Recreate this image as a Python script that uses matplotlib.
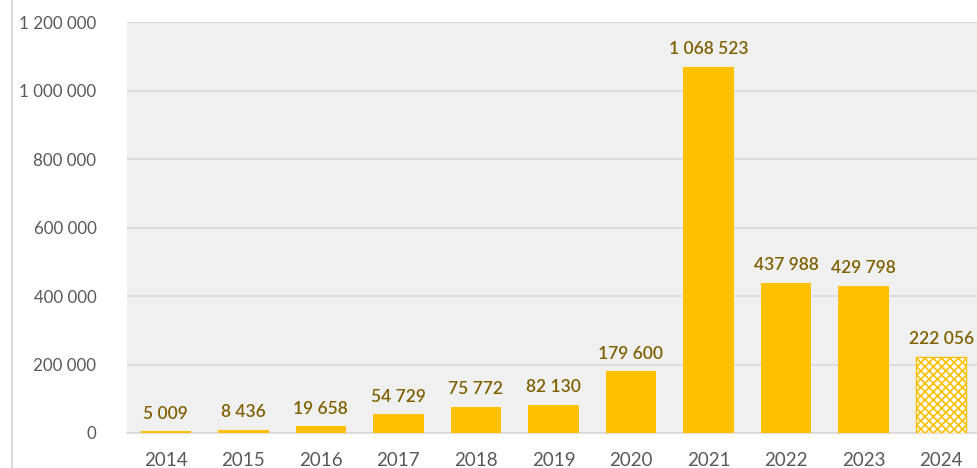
import matplotlib
matplotlib.use("Agg")
import matplotlib.pyplot as plt
from matplotlib.ticker import FuncFormatter

years = ["2014", "2015", "2016", "2017", "2018", "2019", "2020", "2021", "2022", "2023", "2024"]
values = [5009, 8436, 19658, 54729, 75772, 82130, 179600, 1068523, 437988, 429798, 222056]
yticks = [0, 200000, 400000, 600000, 800000, 1000000, 1200000]

plt.rcParams['font.family'] = ['Lato', 'DejaVu Sans']
plt.rcParams['hatch.linewidth'] = 1.2

bar_col = "#FFC000"
lab_col = "#7F6000"
tick_col = "#595959"


def spaced(v, pos=None):
    return f"{int(v):,}".replace(",", " ")


fig = plt.figure(figsize=(9.78, 4.68), dpi=100)
ax = fig.add_axes([0.1299, 0.0748, 0.872, 0.878])
ax.set_facecolor("#F0F0F0")

x = list(range(len(years)))
bars = ax.bar(x[:-1], values[:-1], width=0.65, color=bar_col, zorder=3)
last = ax.bar(x[-1], values[-1], width=0.65, facecolor="white", edgecolor=bar_col,
              hatch="xxxx", linewidth=1, zorder=3)

for xi, v in zip(x, values):
    ax.annotate(spaced(v), (xi, v), xytext=(0, 7), textcoords="offset points",
                ha="center", va="bottom", fontsize=12.5, color=lab_col, fontweight="semibold")

ax.set_xlim(-0.5, len(years) - 0.5)
ax.set_ylim(0, 1200000)
ax.set_yticks(yticks)
ax.yaxis.set_major_formatter(FuncFormatter(spaced))
ax.set_xticks(x)
ax.set_xticklabels(years)
ax.grid(axis="y", color="#D9D9D9", linewidth=1.2, zorder=0)
ax.tick_params(axis="y", length=0, pad=22, labelsize=12.2, labelcolor=tick_col)
ax.tick_params(axis="x", length=0, pad=14, labelsize=13.5, labelcolor=tick_col)
for s in ["top", "right", "left"]:
    ax.spines[s].set_visible(False)
ax.spines["bottom"].set_color("#D9D9D9")
ax.spines["bottom"].set_linewidth(1.2)

fig.add_artist(plt.Line2D([12 / 978, 12 / 978], [0, 1], color="#D9D9D9", linewidth=1.5))

fig.savefig("out.png", dpi=100)
